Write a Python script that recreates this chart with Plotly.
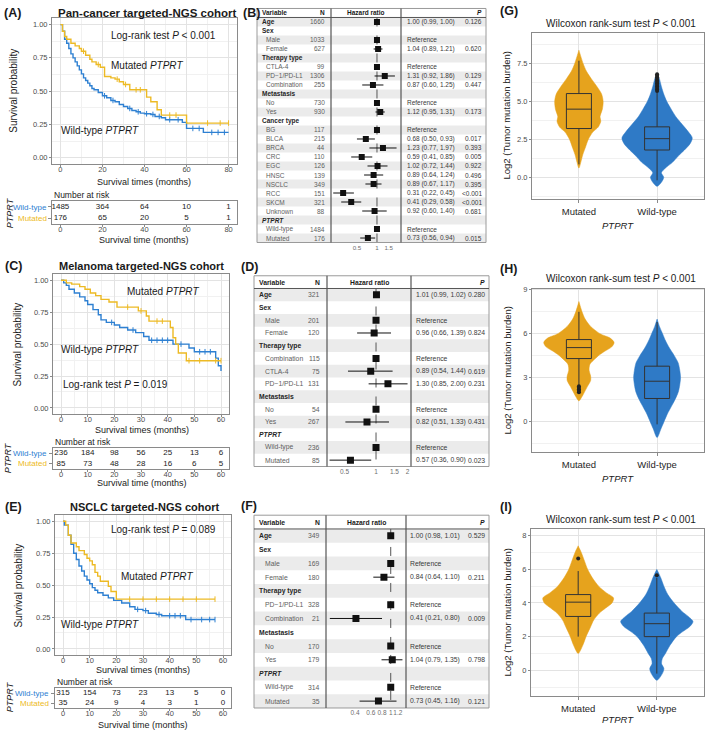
import numpy as np
import plotly.graph_objects as go

W, H = 709, 732
def PX(x): return x / W
def PY(y): return 1 - y / H

FONT = "Liberation Sans, Arial, sans-serif"
KM_BLUE = "#2E80D2"
KM_YELLOW = "#EDBA24"
V_ORANGE = "#E6A31D"
V_BLUE = "#2F7AC6"
DARK = "#1A1A1A"
GRAY = "#4D4D4D"

# ---------------- Kaplan-Meier data ----------------
A_wt_t = [0, 1, 2, 3, 4, 5, 6, 7, 8, 9, 10, 11, 12, 13, 14, 15, 16, 18, 20, 22, 24, 26, 28, 30, 32, 34, 36, 38, 40, 43, 45, 48, 50, 58, 60, 68]
A_wt_s = [1.0, 0.95, 0.89, 0.86, 0.82, 0.78, 0.75, 0.72, 0.69, 0.66, 0.63, 0.60, 0.58, 0.56, 0.54, 0.52, 0.51, 0.49, 0.465, 0.45, 0.43, 0.42, 0.40, 0.385, 0.37, 0.355, 0.345, 0.335, 0.33, 0.325, 0.31, 0.30, 0.285, 0.265, 0.22, 0.19]
A_wt_end = 80
A_wt_cens = [21, 25, 33, 37, 41, 44, 47, 52, 56, 63, 66, 72, 75, 78]
A_mut_t = [0, 1, 2, 3, 5, 7, 9, 10, 12, 14, 15, 17, 19, 21, 24, 26, 28, 30, 33, 41, 43, 46, 48, 60]
A_mut_s = [1.0, 0.95, 0.91, 0.89, 0.86, 0.84, 0.82, 0.80, 0.77, 0.74, 0.72, 0.70, 0.68, 0.61, 0.60, 0.59, 0.57, 0.55, 0.51, 0.455, 0.42, 0.36, 0.32, 0.26]
A_mut_end = 80
A_mut_cens = [11, 18, 27, 31, 36, 38, 52, 55, 70, 76, 80]

C_wt_t = [0, 1, 2, 3, 5, 7, 9, 10, 12, 14, 15, 17, 20, 22, 25, 28, 31, 33, 42, 48, 50, 58, 59, 60]
C_wt_s = [1.0, 0.98, 0.96, 0.93, 0.90, 0.87, 0.84, 0.81, 0.77, 0.73, 0.69, 0.67, 0.65, 0.63, 0.61, 0.59, 0.56, 0.53, 0.50, 0.47, 0.44, 0.39, 0.33, 0.29]
C_wt_end = 60
C_wt_cens = [19, 27, 34, 36, 38, 40, 45, 52, 54, 56]
C_mut_t = [0, 2, 4, 7, 9, 11, 13, 15, 18, 21, 29, 32, 33, 41, 42, 43, 44, 47]
C_mut_s = [1.0, 0.98, 0.97, 0.95, 0.93, 0.90, 0.88, 0.85, 0.83, 0.79, 0.76, 0.72, 0.68, 0.63, 0.55, 0.50, 0.43, 0.37]
C_mut_end = 60
C_mut_cens = [25, 30, 36, 38, 48, 52, 58, 60]

E_wt_t = [0, 0.5, 2, 3, 4, 5, 6, 7, 8, 9, 10, 11, 12, 13, 15, 17, 19, 22, 25, 27, 30, 32, 35, 37, 46]
E_wt_s = [1.0, 0.97, 0.89, 0.82, 0.75, 0.70, 0.65, 0.61, 0.57, 0.54, 0.51, 0.48, 0.46, 0.44, 0.42, 0.40, 0.38, 0.36, 0.33, 0.31, 0.30, 0.28, 0.27, 0.26, 0.23]
E_wt_end = 57
E_wt_cens = [28, 31, 36, 40, 42, 44, 48, 52, 55, 57]
E_mut_t = [0, 1, 2, 3, 5, 6, 8, 9, 10, 11, 12, 13, 14, 17, 18, 20]
E_mut_s = [1.0, 0.97, 0.89, 0.83, 0.80, 0.77, 0.74, 0.71, 0.69, 0.66, 0.60, 0.57, 0.53, 0.49, 0.45, 0.39]
E_mut_end = 57
E_mut_cens = [25, 30, 35, 40, 45, 50, 57]

# risk tables
A_risk_t = [0, 20, 40, 60, 80]
A_risk_wt = [1485, 364, 64, 10, 1]
A_risk_mut = [176, 65, 20, 5, 1]
C_risk_t = [0, 10, 20, 30, 40, 50, 60]
C_risk_wt = [236, 184, 98, 56, 25, 13, 6]
C_risk_mut = [85, 73, 48, 28, 16, 6, 5]
E_risk_t = [0, 10, 20, 30, 40, 50, 60]
E_risk_wt = [315, 154, 73, 23, 13, 5, 0]
E_risk_mut = [35, 24, 9, 4, 3, 1, 0]

# ---------------- Forest data ----------------
B_var = ["Age", "Sex", "Male", "Female", "Therapy type", "CTLA-4", "PD\u22121/PD-L1", "Combination",
         "Metastasis", "No", "Yes", "Cancer type", "BG", "BLCA", "BRCA", "CRC", "EGC", "HNSC", "NSCLC",
         "RCC", "SKCM", "Unknown", "PTPRT", "Wild-type", "Mutated"]
B_head = [1, 1, 0, 0, 1, 0, 0, 0, 1, 0, 0, 1, 0, 0, 0, 0, 0, 0, 0, 0, 0, 0, 1, 0, 0]
B_n = [1660, None, 1033, 627, None, 99, 1306, 255, None, 730, 930, None, 117, 215, 44, 110, 126, 139, 349, 151, 321, 88, None, 1484, 176]
B_hr = [1.00, None, 1, 1.04, None, 1, 1.31, 0.87, None, 1, 1.12, None, 1, 0.68, 1.23, 0.59, 1.02, 0.89, 0.89, 0.31, 0.41, 0.92, None, 1, 0.73]
B_lo = [0.99, None, None, 0.89, None, None, 0.92, 0.60, None, None, 0.95, None, None, 0.50, 0.77, 0.41, 0.72, 0.64, 0.67, 0.22, 0.29, 0.60, None, None, 0.56]
B_hi = [1.00, None, None, 1.21, None, None, 1.86, 1.25, None, None, 1.31, None, None, 0.93, 1.97, 0.85, 1.44, 1.24, 1.17, 0.45, 0.58, 1.40, None, None, 0.94]
B_p = ["0.126", "", "", "0.620", "", "", "0.129", "0.447", "", "", "0.173", "", "", "0.017", "0.393", "0.005", "0.922", "0.496", "0.395", "&lt;0.001", "&lt;0.001", "0.681", "", "", "0.015"]
B_ticks = [0.5, 1, 1.5]

D_var = ["Age", "Sex", "Male", "Female", "Therapy type", "Combination", "CTLA-4", "PD\u22121/PD-L1",
         "Metastasis", "No", "Yes", "PTPRT", "Wild-type", "Mutated"]
D_head = [1, 1, 0, 0, 1, 0, 0, 0, 1, 0, 0, 1, 0, 0]
D_n = [321, None, 201, 120, None, 115, 75, 131, None, 54, 267, None, 236, 85]
D_hr = [1.01, None, 1, 0.96, None, 1, 0.89, 1.30, None, 1, 0.82, None, 1, 0.57]
D_lo = [0.99, None, None, 0.66, None, None, 0.54, 0.85, None, None, 0.51, None, None, 0.36]
D_hi = [1.02, None, None, 1.39, None, None, 1.44, 2.00, None, None, 1.33, None, None, 0.90]
D_p = ["0.280", "", "", "0.824", "", "", "0.619", "0.231", "", "", "0.431", "", "", "0.023"]
D_ticks = [0.5, 1, 1.5, 2]

F_var = ["Age", "Sex", "Male", "Female", "Therapy type", "PD\u22121/PD-L1", "Combination",
         "Metastasis", "No", "Yes", "PTPRT", "Wild-type", "Mutated"]
F_head = [1, 1, 0, 0, 1, 0, 0, 1, 0, 0, 1, 0, 0]
F_n = [349, None, 169, 180, None, 328, 21, None, 170, 179, None, 314, 35]
F_hr = [1.00, None, 1, 0.84, None, 1, 0.41, None, 1, 1.04, None, 1, 0.73]
F_lo = [0.98, None, None, 0.64, None, None, 0.21, None, None, 0.79, None, None, 0.45]
F_hi = [1.01, None, None, 1.10, None, None, 0.80, None, None, 1.35, None, None, 1.16]
F_p = ["0.529", "", "", "0.211", "", "", "0.009", "", "", "0.798", "", "", "0.121"]
F_ticks = [0.4, 0.6, 0.8, 1, 1.2]

# ---------------- Violin / box data ----------------
groups = ["Mutated", "Wild-type"]
G_mut_v = [0.6, 1.0, 1.5, 2.0, 2.5, 3.0, 3.3, 3.7, 4.0, 4.5, 5.0, 5.5, 6.0, 6.5, 7.0, 7.5, 8.4]
G_mut_w = [0.0, 0.025, 0.05, 0.085, 0.12, 0.18, 0.245, 0.28, 0.27, 0.30, 0.31, 0.29, 0.23, 0.16, 0.097, 0.055, 0.0]
G_wt_v = [-0.6, -0.3, 0.0, 0.3, 0.6, 1.0, 1.4, 1.8, 2.2, 2.6, 3.0, 3.5, 4.0, 4.5, 5.0, 5.5, 6.0, 6.5, 6.9]
G_wt_w = [0.0, 0.06, 0.085, 0.055, 0.105, 0.20, 0.27, 0.35, 0.42, 0.45, 0.40, 0.32, 0.24, 0.18, 0.125, 0.085, 0.055, 0.03, 0.0]
G_q1 = [3.22, 1.80]; G_med = [4.50, 2.55]; G_q3 = [5.53, 3.33]; G_lf = [0.85, -0.20]; G_uf = [7.70, 5.60]
G_out_mut = []
G_out_wt = [5.7, 5.8, 5.9, 6.0, 6.1, 6.2, 6.3, 6.4, 6.5, 6.6, 6.7, 6.8]

H_mut_v = [1.4, 1.7, 2.0, 2.4, 2.8, 3.1, 3.5, 3.9, 4.2, 4.5, 4.8, 5.1, 5.4, 5.7, 6.0, 6.5, 7.0, 7.5, 8.2]
H_mut_w = [0.0, 0.04, 0.07, 0.11, 0.15, 0.15, 0.13, 0.14, 0.19, 0.25, 0.33, 0.42, 0.45, 0.40, 0.27, 0.15, 0.08, 0.04, 0.0]
H_wt_v = [-1.1, -0.5, 0.0, 0.5, 1.0, 1.5, 2.0, 2.5, 3.0, 3.5, 4.0, 4.5, 5.0, 5.5, 6.0, 6.5, 7.0]
H_wt_w = [0.0, 0.05, 0.09, 0.13, 0.18, 0.23, 0.27, 0.29, 0.30, 0.29, 0.27, 0.22, 0.16, 0.11, 0.07, 0.03, 0.0]
H_q1 = [4.30, 1.57]; H_med = [5.05, 2.75]; H_q3 = [5.60, 3.78]; H_lf = [2.50, -0.20]; H_uf = [7.50, 6.80]
H_out_mut = [2.0, 2.1, 2.2, 2.3, 2.4]
H_out_wt = []

I_mut_v = [1.0, 1.5, 2.0, 2.5, 3.0, 3.4, 3.7, 4.0, 4.3, 4.6, 5.0, 5.5, 6.0, 6.5, 7.0, 7.4]
I_mut_w = [0.0, 0.06, 0.10, 0.15, 0.20, 0.27, 0.35, 0.43, 0.45, 0.36, 0.26, 0.18, 0.12, 0.08, 0.04, 0.0]
I_wt_v = [-0.6, -0.2, 0.1, 0.4, 0.7, 1.0, 1.5, 2.0, 2.3, 2.6, 2.9, 3.2, 3.5, 4.0, 4.5, 5.0, 5.5, 6.0]
I_wt_w = [0.0, 0.07, 0.09, 0.06, 0.07, 0.11, 0.17, 0.25, 0.33, 0.42, 0.46, 0.40, 0.32, 0.22, 0.14, 0.09, 0.05, 0.0]
I_q1 = [3.20, 2.00]; I_med = [4.05, 2.77]; I_q3 = [4.50, 3.40]; I_lf = [2.00, -0.20]; I_uf = [5.90, 5.50]
I_out_mut = [6.65]
I_out_wt = [5.65]

# ---------------- builders ----------------
traces, annotations, shapes = [], [], []
layout_axes = {}
STANDOFF_KEYS = []

def axn(i, k):
    return k if i == 1 else f"{k}{i}"

def set_axes(i, xd, yd, xcfg, ycfg):
    xk = "xaxis" if i == 1 else f"xaxis{i}"
    yk = "yaxis" if i == 1 else f"yaxis{i}"
    layout_axes[xk] = dict(domain=[PX(xd[0]), PX(xd[1])], anchor=axn(i, "y"), **xcfg)
    layout_axes[yk] = dict(domain=[PY(yd[1]), PY(yd[0])], anchor=axn(i, "x"), **ycfg)
    return xk, yk

def ann(text, x, y, size, color=DARK, xanchor="center", yanchor="middle", yref="paper", angle=0):
    annotations.append(dict(text=text, x=PX(x), y=(PY(y) if yref == "paper" else y), xref="paper", yref=yref,
                            showarrow=False, font=dict(size=size, color=color, family=FONT),
                            xanchor=xanchor, yanchor=yanchor, textangle=angle))

def tickfont(size=7.5, color=GRAY):
    return dict(size=size, color=color, family=FONT)

BORDER = "#8A8A8A"
GRID = "#E3E3E3"
MINOR = "#F1F1F1"

def km_panel(ik, ir, xd, ydk, ydr, xr, xt, xm, curves, rt, rwt, rmut, texts):
    xcfg = dict(range=xr, tickvals=xt, ticktext=[str(v) for v in xt], showgrid=True, gridcolor=GRID,
                minor=dict(tickvals=xm, showgrid=True, gridcolor=MINOR, ticks=""),
                zeroline=False, showline=True, mirror=True, linecolor=BORDER, linewidth=1,
                ticks="outside", ticklen=2, tickcolor=BORDER, tickfont=tickfont(7.5), tickangle=0, fixedrange=True)
    ycfg = dict(range=[-0.05, 1.05], tickvals=[0, 0.25, 0.5, 0.75, 1.0],
                ticktext=["0.00", "0.25", "0.50", "0.75", "1.00"], showgrid=True, gridcolor=GRID,
                minor=dict(tickvals=[0.125, 0.375, 0.625, 0.875], showgrid=True, gridcolor=MINOR, ticks=""),
                zeroline=False, showline=True, mirror=True, linecolor=BORDER, linewidth=1,
                ticks="outside", ticklen=2, tickcolor=BORDER, tickfont=tickfont(7.5), fixedrange=True)
    xk, _ = set_axes(ik, xd, ydk, xcfg, ycfg)
    STANDOFF_KEYS.append(xk)
    for t, s, tend, cens, color in curves:
        xs = list(t) + [tend]
        ys = list(s) + [s[-1]]
        traces.append(go.Scatter(x=xs, y=ys, mode="lines", line=dict(color=color, width=1.4, shape="hv"),
                                 xaxis=axn(ik, "x"), yaxis=axn(ik, "y"), hoverinfo="skip", showlegend=False))
        idx = np.searchsorted(np.array(t, dtype=float), np.array(cens, dtype=float), side="right") - 1
        cy = [s[k] for k in idx]
        traces.append(go.Scatter(x=cens, y=cy, mode="markers",
                                 marker=dict(symbol="line-ns-open", size=4, color=color, line=dict(width=1, color=color)),
                                 xaxis=axn(ik, "x"), yaxis=axn(ik, "y"), hoverinfo="skip", showlegend=False))
    xcfg2 = dict(range=xr, tickvals=xt, ticktext=[str(v) for v in xt], showgrid=False, zeroline=False,
                 showline=True, mirror=True, linecolor=BORDER, linewidth=1, ticks="outside", ticklen=2,
                 tickcolor=BORDER, tickfont=tickfont(7.5), tickangle=0, fixedrange=True)
    ycfg2 = dict(range=[0.5, 2.5], tickvals=[1, 2], ticktext=["", ""], showgrid=False, zeroline=False,
                 showline=True, mirror=True, linecolor=BORDER, linewidth=1, ticks="outside", ticklen=3,
                 tickcolor=BORDER, fixedrange=True)
    xk2, _ = set_axes(ir, xd, ydr, xcfg2, ycfg2)
    STANDOFF_KEYS.append(xk2)
    for row, vals in ((2, rwt), (1, rmut)):
        traces.append(go.Scatter(x=rt, y=[row] * len(rt), mode="text", text=[str(v) for v in vals],
                                 textfont=dict(size=8, color=DARK, family=FONT), textposition="middle center",
                                 xaxis=axn(ir, "x"), yaxis=axn(ir, "y"), hoverinfo="skip", showlegend=False))
    for tx in texts:
        ann(*tx)

def forest_panel(i, var, head, n, hr, lo, hi, pv, box, fxd, lrange, ticks, cols, fs, msize):
    x0, x1, yt, yb = box
    nr = len(var)
    set_axes(i, fxd, (yt, yb),
             dict(type="log", range=lrange, tickvals=ticks, ticktext=[f"{v:g}" for v in ticks], showgrid=False,
                  zeroline=False, showline=False, ticks="", tickangle=0,
                  tickfont=tickfont(fs - 0.3, "#6E6E6E"), fixedrange=True),
             dict(range=[nr + 0.5, -0.5], visible=False, showgrid=False, zeroline=False, fixedrange=True))
    yref = axn(i, "y")
    for r in range(1, nr + 1, 2):
        shapes.append(dict(type="rect", xref="paper", yref=yref, x0=PX(x0), x1=PX(x1), y0=r - 0.5, y1=r + 0.5,
                           fillcolor="#EBEBEB", line=dict(width=0), layer="below"))
    shapes.append(dict(type="rect", xref="paper", yref="paper", x0=PX(x0), x1=PX(x1), y0=PY(yb), y1=PY(yt),
                       line=dict(color="#9A9A9A", width=1), fillcolor="rgba(0,0,0,0)", layer="above"))
    for xv in fxd:
        shapes.append(dict(type="line", xref="paper", yref="paper", x0=PX(xv), x1=PX(xv), y0=PY(yb), y1=PY(yt),
                           line=dict(color="#555555", width=1.2), layer="above"))
    shapes.append(dict(type="line", xref="paper", yref=yref, x0=PX(x0), x1=PX(x1), y0=0.5, y1=0.5,
                       line=dict(color="#555555", width=1), layer="above"))
    ann("<b>Variable</b>", cols["var"], 0, fs, DARK, "left", yref=yref)
    ann("<b>N</b>", cols["n"], 0, fs, DARK, "right", yref=yref)
    ann("<b>Hazard ratio</b>", (fxd[0] + fxd[1]) / 2, 0, fs, DARK, "center", yref=yref)
    ann("<b><i>P</i></b>", cols["p"], 0, fs, DARK, "right", yref=yref)
    for k in range(nr):
        r = k + 1
        if head[k]:
            label = f"<b><i>{var[k]}</i></b>" if var[k] == "PTPRT" else f"<b>{var[k]}</b>"
            ann(label, cols["var"], r, fs, "#262626", "left", yref=yref)
        else:
            ann(var[k], cols["ind"], r, fs, "#5E5E5E", "left", yref=yref)
        if n[k] is not None:
            ann(str(n[k]), cols["n"], r, fs, "#5E5E5E", "right", yref=yref)
        if hr[k] is not None:
            if lo[k] is None:
                txt = "Reference"
            else:
                txt = f"{hr[k]:.2f} ({lo[k]:.2f}, {hi[k]:.2f})"
            ann(txt, cols["hr"], r, fs, "#3A3A3A", "left", yref=yref)
        if pv[k]:
            ann(pv[k], cols["p"], r, fs, "#3A3A3A", "right", yref=yref)
    traces.append(go.Scatter(x=[1, 1], y=[0.5, nr + 0.5], mode="lines",
                             line=dict(color="#555555", width=1, dash="dash"),
                             xaxis=axn(i, "x"), yaxis=yref, hoverinfo="skip", showlegend=False))
    sx, sy = [], []
    for k in range(nr):
        if lo[k] is not None:
            sx += [lo[k], hi[k], None]
            sy += [k + 1, k + 1, None]
    traces.append(go.Scatter(x=sx, y=sy, mode="lines", line=dict(color="#111111", width=1),
                             xaxis=axn(i, "x"), yaxis=yref, hoverinfo="skip", showlegend=False))
    mx = [hr[k] for k in range(nr) if hr[k] is not None]
    my = [k + 1 for k in range(nr) if hr[k] is not None]
    traces.append(go.Scatter(x=mx, y=my, mode="markers", marker=dict(symbol="square", size=msize, color="#111111"),
                             xaxis=axn(i, "x"), yaxis=yref, hoverinfo="skip", showlegend=False))

def violin_panel(i, xd, yd, yr, yt, ytt, ym, profiles, stats, outs, texts):
    xcfg = dict(range=[0.4, 2.6], tickvals=[1, 2], ticktext=groups, showgrid=True, gridcolor=GRID,
                zeroline=False, showline=True, mirror=True, linecolor=BORDER, linewidth=1,
                ticks="outside", ticklen=3, tickcolor=BORDER, tickfont=tickfont(9.5, "#262626"), fixedrange=True)
    ycfg = dict(range=yr, tickvals=yt, ticktext=ytt, showgrid=True, gridcolor=GRID,
                minor=dict(tickvals=ym, showgrid=True, gridcolor=MINOR, ticks=""),
                zeroline=False, showline=True, mirror=True, linecolor=BORDER, linewidth=1,
                ticks="outside", ticklen=2, tickcolor=BORDER, tickfont=tickfont(7.5), fixedrange=True)
    set_axes(i, xd, yd, xcfg, ycfg)
    for c, v, w, col in profiles:
        v = np.array(v, dtype=float); w = np.array(w, dtype=float)
        xs = np.concatenate([c - w, (c + w)[::-1]])
        ys = np.concatenate([v, v[::-1]])
        traces.append(go.Scatter(x=xs, y=ys, mode="lines", fill="toself", fillcolor=col,
                                 line=dict(color=col, width=0.5, shape="spline", smoothing=0.8),
                                 xaxis=axn(i, "x"), yaxis=axn(i, "y"), hoverinfo="skip", showlegend=False))
    q1, med, q3, lf, uf = stats
    hw = 0.16
    bx, by = [], []
    for k, c in enumerate([1, 2]):
        bx += [c - hw, c + hw, c + hw, c - hw, c - hw, None, c - hw, c + hw, None, c, c, None, c, c, None]
        by += [q1[k], q1[k], q3[k], q3[k], q1[k], None, med[k], med[k], None, lf[k], q1[k], None, q3[k], uf[k], None]
    traces.append(go.Scatter(x=bx, y=by, mode="lines", line=dict(color="#333333", width=1),
                             xaxis=axn(i, "x"), yaxis=axn(i, "y"), hoverinfo="skip", showlegend=False))
    for c, o in zip([1, 2], outs):
        if o:
            traces.append(go.Scatter(x=[c] * len(o), y=o, mode="markers",
                                     marker=dict(size=4, color="#222222"),
                                     xaxis=axn(i, "x"), yaxis=axn(i, "y"), hoverinfo="skip", showlegend=False))
    for tx in texts:
        ann(*tx)

# ---------------- Panels A, C, E ----------------
IT = "<i>PTPRT</i>"
km_panel(1, 2, (52, 237), (15, 162), (199, 222), [-4, 84], [0, 20, 40, 60, 80], [10, 30, 50, 70],
         [(A_wt_t, A_wt_s, A_wt_end, A_wt_cens, KM_BLUE), (A_mut_t, A_mut_s, A_mut_end, A_mut_cens, KM_YELLOW)],
         A_risk_t, A_risk_wt, A_risk_mut,
         [("<b>(A)</b>", 2, 10, 12.5, DARK, "left"),
          ("<b>Pan-cancer targeted-NGS cohort</b>", 147, 10, 11.5),
          ("Log-rank test <i>P</i> &lt; 0.001", 163, 33, 10),
          ("Mutated " + IT, 147, 63, 10),
          ("Wild-type " + IT, 100, 128, 10),
          ("Survival probability", 14, 88, 10, DARK, "center", "middle", "paper", -90),
          ("Survival times (months)", 144, 180, 9),
          ("Number at risk", 52, 193, 8.5, DARK, "left"),
          ("Wild-type", 49, 205, 8, KM_BLUE, "right"),
          ("Mutated", 49, 216, 8, KM_YELLOW, "right"),
          (IT, 10, 211, 9, DARK, "center", "middle", "paper", -90),
          ("Survival time (months)", 144, 238, 9)])

km_panel(3, 4, (53, 229), (272, 413), (447, 468), [-3, 63], [0, 10, 20, 30, 40, 50, 60], [5, 15, 25, 35, 45, 55],
         [(C_wt_t, C_wt_s, C_wt_end, C_wt_cens, KM_BLUE), (C_mut_t, C_mut_s, C_mut_end, C_mut_cens, KM_YELLOW)],
         C_risk_t, C_risk_wt, C_risk_mut,
         [("<b>(C)</b>", 3, 264, 12.5, DARK, "left"),
          ("<b>Melanoma targeted-NGS cohort</b>", 141, 264, 11),
          ("Mutated " + IT, 163, 290, 10),
          ("Wild-type " + IT, 100, 348, 10),
          ("Log-rank test <i>P</i> = 0.019", 115, 383, 10),
          ("Survival probability", 18, 343, 10, DARK, "center", "middle", "paper", -90),
          ("Survival times (months)", 142, 429, 9),
          ("Number at risk", 53, 441, 8.5, DARK, "left"),
          ("Wild-type", 49, 452, 8, KM_BLUE, "right"),
          ("Mutated", 49, 462, 8, KM_YELLOW, "right"),
          (IT, 8, 457, 9, DARK, "center", "middle", "paper", -90),
          ("Survival time (months)", 142, 482, 9)])

km_panel(5, 6, (55, 231), (514, 655), (688, 708), [-3, 63], [0, 10, 20, 30, 40, 50, 60], [5, 15, 25, 35, 45, 55],
         [(E_wt_t, E_wt_s, E_wt_end, E_wt_cens, KM_BLUE), (E_mut_t, E_mut_s, E_mut_end, E_mut_cens, KM_YELLOW)],
         E_risk_t, E_risk_wt, E_risk_mut,
         [("<b>(E)</b>", 3, 506, 12.5, DARK, "left"),
          ("<b>NSCLC targeted-NGS cohort</b>", 144, 506, 11),
          ("Log-rank test <i>P</i> = 0.089", 163, 529, 10),
          ("Mutated " + IT, 157, 576, 10),
          ("Wild-type " + IT, 100, 624, 10),
          ("Survival probability", 19, 585, 10, DARK, "center", "middle", "paper", -90),
          ("Survival times (months)", 143, 670, 9),
          ("Number at risk", 55, 682, 8.5, DARK, "left"),
          ("Wild-type", 51, 693, 8, KM_BLUE, "right"),
          ("Mutated", 51, 703, 8, KM_YELLOW, "right"),
          (IT, 10, 697, 9, DARK, "center", "middle", "paper", -90),
          ("Survival time (months)", 143, 725, 9)])

# ---------------- Panels B, D, F ----------------
ann("<b>(B)</b>", 241, 10, 12.5, DARK, "left")
forest_panel(7, B_var, B_head, B_n, B_hr, B_lo, B_hi, B_p, (257, 486, 5.5, 240.5), (331, 401),
             [-0.691, 0.361], B_ticks, dict(var=260, ind=264, n=327, hr=405, p=484), 6.5, 6)
ann("<b>(D)</b>", 239, 265, 12.5, DARK, "left")
forest_panel(8, D_var, D_head, D_n, D_hr, D_lo, D_hi, D_p, (254, 489, 273.9, 465.4), (327, 411),
             [-0.468, 0.334], D_ticks, dict(var=257, ind=263, n=322, hr=414, p=487), 6.8, 7)
ann("<b>(F)</b>", 239, 505, 12.5, DARK, "left")
forest_panel(9, F_var, F_head, F_n, F_hr, F_lo, F_hi, F_p, (254, 489, 514.3, 707.9), (326, 406),
             [-0.7205, 0.170], F_ticks, dict(var=257, ind=263, n=322, hr=408, p=487), 6.8, 7)

# ---------------- Panels G, H, I ----------------
WTXT = "Wilcoxon rank-sum test <i>P</i> &lt; 0.001"
YTXT = "Log2 (Tumor mutation burden)"
violin_panel(10, (532, 704), (30, 197), [-1.45, 9.54], [0, 2.5, 5, 7.5], ["0.0", "2.5", "5.0", "7.5"],
             [-1.25, 1.25, 3.75, 6.25, 8.75],
             [(1, G_mut_v, G_mut_w, V_ORANGE), (2, G_wt_v, G_wt_w, V_BLUE)],
             (G_q1, G_med, G_q3, G_lf, G_uf), [G_out_mut, G_out_wt],
             [("<b>(G)</b>", 498, 8, 12.5, DARK, "left"),
              (WTXT, 621, 21, 10),
              (YTXT, 507, 113, 9.5, DARK, "center", "middle", "paper", -90),
              (IT, 618, 223, 9.5)])
violin_panel(11, (532, 704), (287, 451), [-2.1, 9.07], [0, 3, 6, 9], ["0", "3", "6", "9"],
             [-1.5, 1.5, 4.5, 7.5],
             [(1, H_mut_v, H_mut_w, V_ORANGE), (2, H_wt_v, H_wt_w, V_BLUE)],
             (H_q1, H_med, H_q3, H_lf, H_uf), [H_out_mut, H_out_wt],
             [("<b>(H)</b>", 498, 267, 12.5, DARK, "left"),
              (WTXT, 621, 277, 10),
              (YTXT, 507, 369, 9.5, DARK, "center", "middle", "paper", -90),
              (IT, 618, 477, 9.5)])
violin_panel(12, (531, 704), (528, 696), [-1.54, 8.41], [0, 2, 4, 6, 8], ["0", "2", "4", "6", "8"],
             [-1, 1, 3, 5, 7],
             [(1, I_mut_v, I_mut_w, V_ORANGE), (2, I_wt_v, I_wt_w, V_BLUE)],
             (I_q1, I_med, I_q3, I_lf, I_uf), [I_out_mut, I_out_wt],
             [("<b>(I)</b>", 498, 506, 12.5, DARK, "left"),
              (WTXT, 621, 519, 10),
              (YTXT, 507, 612, 9.5, DARK, "center", "middle", "paper", -90),
              (IT, 618, 719, 9.5)])

fig = go.Figure(data=traces)
fig.update_layout(width=W, height=H, margin=dict(l=0, r=0, t=0, b=0), autosize=False,
                  paper_bgcolor="white", plot_bgcolor="rgba(0,0,0,0)", showlegend=False,
                  font=dict(family=FONT, size=9, color=DARK), annotations=annotations, shapes=shapes,
                  **layout_axes)
for key in STANDOFF_KEYS:
    try:
        fig.layout[key].ticklabelstandoff = -4
    except Exception:
        pass
fig.write_html("out.html", config=dict(displayModeBar=False),
               post_script="document.body.style.margin='0';document.body.style.overflow='hidden';")
